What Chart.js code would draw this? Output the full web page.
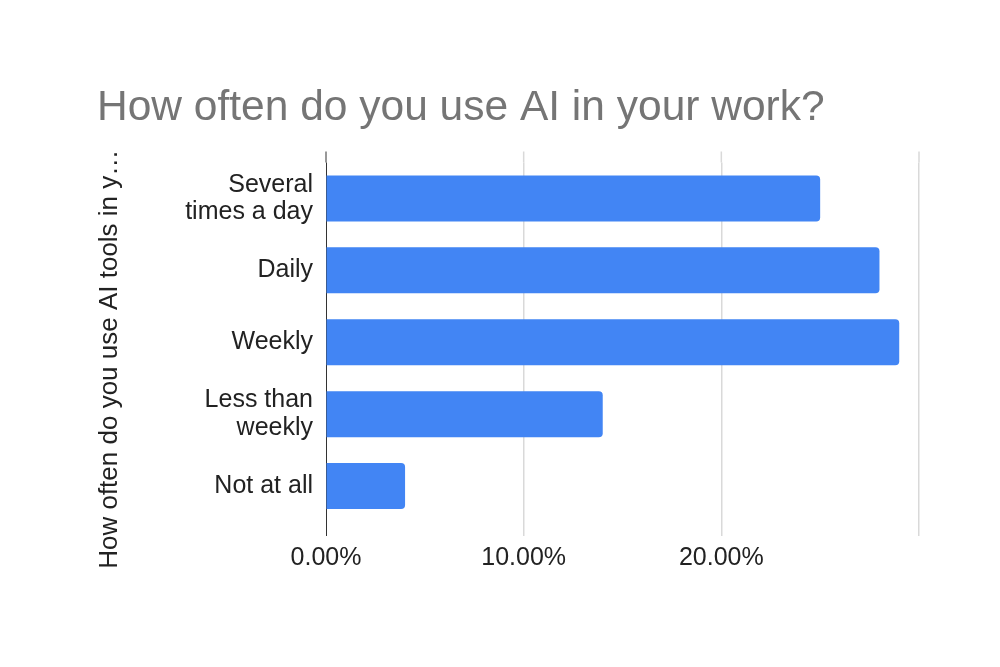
<!DOCTYPE html>
<html>
<head>
<meta charset="utf-8">
<title>How often do you use AI in your work?</title>
<script src="https://cdn.jsdelivr.net/npm/chart.js@4"></script>
<style>
  body { margin: 0; background: #fff; }
  #wrap { width: 1000px; height: 667px; position: relative; }
</style>
</head>
<body>
<div id="wrap"><canvas id="barChart"></canvas></div>
<script>
// data
const categories = [["Several", "times a day"], "Daily", "Weekly", ["Less than", "weekly"], "Not at all"];
const shares = [25, 28, 29, 14, 4];
const tickLabels = ["0.00%", "10.00%", "20.00%", ""];
const yTitle = "How often do you use AI tools in y…";

const FONT = "'Liberation Sans', Arial, sans-serif";

// gridlines in the reference poke out a little above the plot
const gridTop = {
  id: "gridTop",
  beforeDatasetsDraw(chart) {
    const ctx = chart.ctx;
    const x = chart.scales.x;
    const top = chart.chartArea.top;
    ctx.save();
    x.ticks.forEach(function (t) {
      const px = x.getPixelForValue(t.value);
      ctx.beginPath();
      ctx.strokeStyle = t.value === 0 ? "#333333" : "#d9d9d9";
      ctx.lineWidth = t.value === 0 ? 1 : 1.5;
      ctx.moveTo(px, top - 11);
      ctx.lineTo(px, top);
      ctx.stroke();
    });
    ctx.restore();
  }
};

// y axis title sits lower than the plot centre, like the google sheets one
const yTitlePlugin = {
  id: "yTitle",
  afterDraw(chart) {
    const ctx = chart.ctx;
    const area = chart.chartArea;
    ctx.save();
    ctx.translate(110, (area.top + area.bottom) / 2 + 17);
    ctx.rotate(-Math.PI / 2);
    ctx.font = "26px " + FONT;
    ctx.fillStyle = "#222222";
    ctx.textAlign = "center";
    ctx.textBaseline = "middle";
    ctx.fillText(yTitle, 0, 0);
    ctx.restore();
  }
};

function renderChart() {
  const ctx = document.getElementById("barChart").getContext("2d");
  new Chart(ctx, {
    type: "bar",
    data: {
      labels: categories,
      datasets: [
        {
          label: "Share",
          data: shares,
          backgroundColor: "#4285F4",
          borderRadius: 4,
          borderSkipped: "start",
          categoryPercentage: 1,
          barPercentage: 0.64,
        },
      ],
    },
    options: {
      indexAxis: "y",
      responsive: true,
      maintainAspectRatio: false,
      animation: false,
      layout: { padding: { left: 97, right: 81, top: 0, bottom: 87 } },
      plugins: {
        legend: { display: false },
        tooltip: { enabled: false },
        title: {
          display: true,
          text: "How often do you use AI in your work?",
          align: "start",
          color: "#757575",
          font: { family: FONT, size: 42.5, weight: "normal" },
          padding: { top: 83, bottom: 28.5 },
        },
      },
      scales: {
        x: {
          min: 0,
          max: 30,
          ticks: {
            stepSize: 10,
            color: "#222222",
            padding: 7,
            font: { family: FONT, size: 25 },
            callback: function (value, index) {
              return tickLabels[index];
            },
          },
          grid: {
            color: function (c) {
              return c.tick && c.tick.value === 0 ? "#333333" : "#d9d9d9";
            },
            lineWidth: function (c) {
              return c.tick && c.tick.value === 0 ? 1 : 1.5;
            },
            tickLength: 14,
          },
          border: { display: false },
        },
        y: {
          afterFit: function (scale) {
            scale.width = 229;
          },
          ticks: {
            color: "#222222",
            padding: 13,
            font: { family: FONT, size: 25, lineHeight: 1.1 },
          },
          grid: { display: false, drawTicks: false },
          border: { display: false },
        },
      },
    },
    plugins: [gridTop, yTitlePlugin],
  });
}

renderChart();
</script>
</body>
</html>
